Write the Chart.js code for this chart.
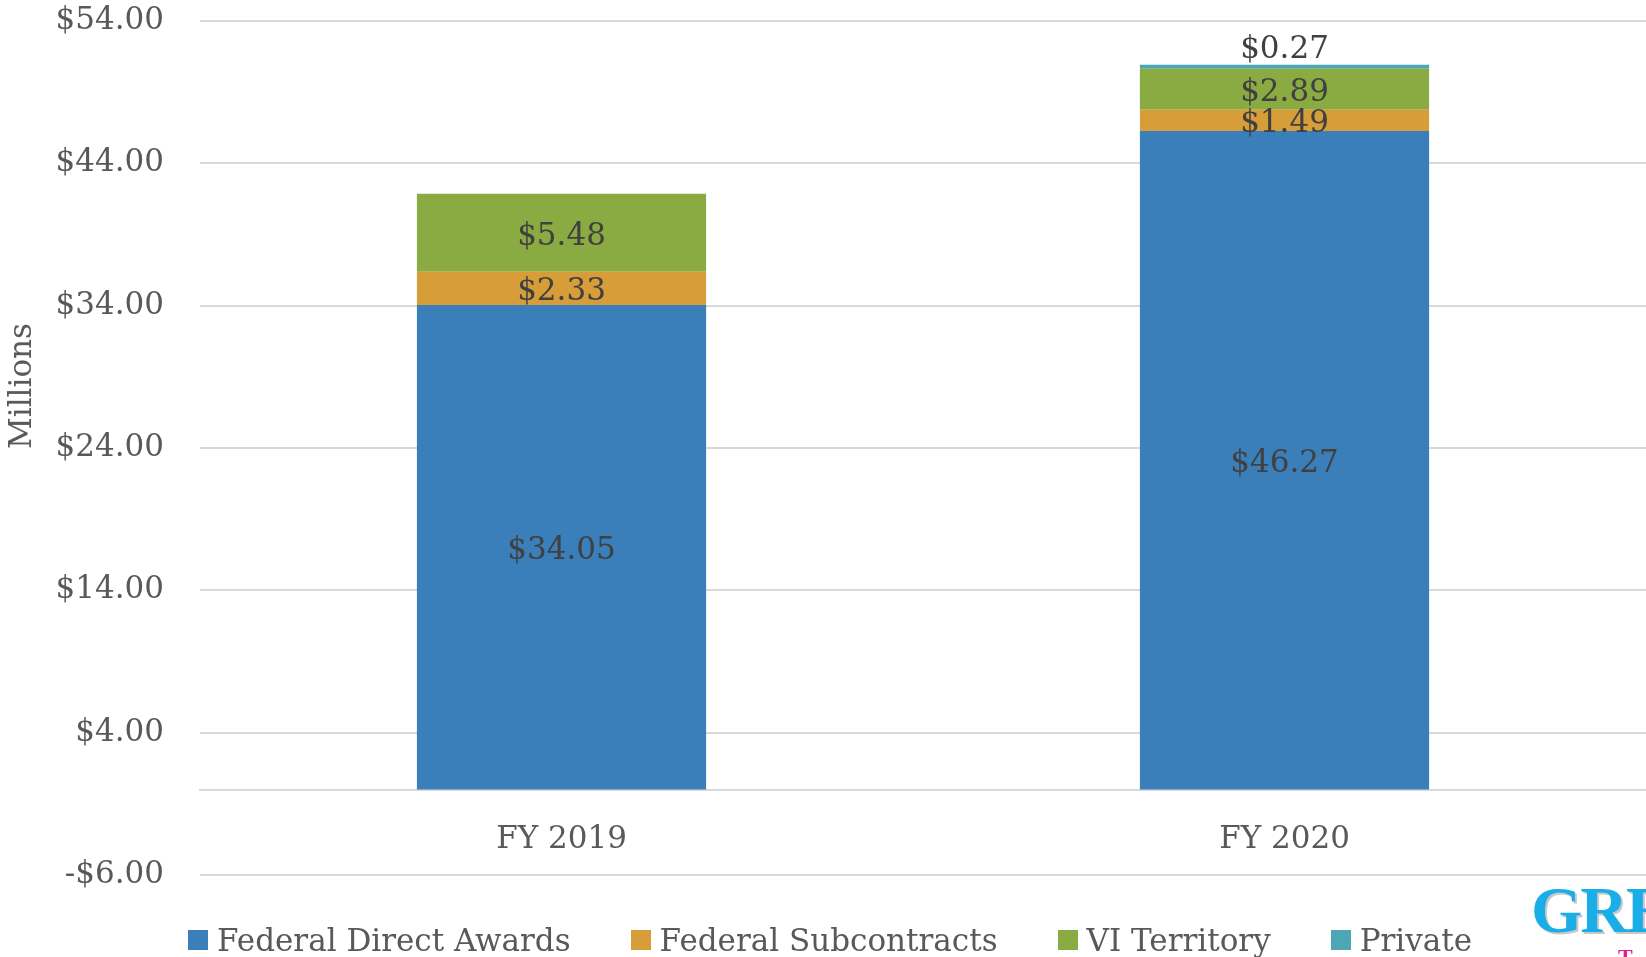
<!DOCTYPE html>
<html>
<head>
<meta charset="utf-8">
<script src="https://cdn.jsdelivr.net/npm/chart.js@4"></script>
<style>
  html, body { margin: 0; padding: 0; background: #fff; overflow: hidden; }
  #wrap { position: relative; width: 1646px; height: 957px; }
  #legend {
    position: absolute; left: 188px; top: 922px;
    display: flex; align-items: center;
    font: 31px "DejaVu Serif", serif; color: #595959; white-space: nowrap;
  }
  .item { display: flex; align-items: center; margin-right: 60px; }
  .box { width: 20px; height: 20px; margin-right: 9px; }
  #ytitle {
    position: absolute; left: 20px; top: 386px;
    transform: translate(-50%, -50%) rotate(-90deg);
    font: 31px "DejaVu Serif", serif; color: #595959; white-space: nowrap;
  }
  #logo {
    position: absolute; left: 1531px; top: 872px;
    font: bold 66px "Liberation Serif", serif; color: #1aaee9;
    text-shadow: 2px 2px 0 #c8c8c8; white-space: nowrap; letter-spacing: -2px;
  }
  #logo2 {
    position: absolute; left: 1618px; top: 944px;
    font: bold 22px "Liberation Serif", serif; color: #e0208a;
  }
</style>
</head>
<body>
<div id="wrap">
  <canvas id="chart" width="1646" height="957"></canvas>
  <div id="ytitle">Millions</div>
  <div id="legend"></div>
  <div id="logo">GRE</div>
  <div id="logo2">T</div>
</div>
<script>
// Data (millions of dollars)
const categories = ['FY 2019', 'FY 2020'];
const federalDirect = [34.05, 46.27];
const federalSub = [2.33, 1.49];
const viTerritory = [5.48, 2.89];
const privateFunds = [0, 0.27];
const yTicks = [-6, 4, 14, 24, 34, 44, 54];

const colors = {
    blue: '#3a7fb9',
    orange: '#d79d38',
    green: '#8aaa42',
    teal: '#4ea5b5'
};

const fmt = v => (v < 0 ? '-$' : '$') + Math.abs(v).toFixed(2);

// Simple value labels drawn in each bar segment
const valueLabels = {
    id: 'valueLabels',
    afterDatasetsDraw(chart) {
        const ctx = chart.ctx;
        ctx.save();
        ctx.font = '31px "DejaVu Serif", serif';
        ctx.fillStyle = '#404040';
        ctx.textAlign = 'center';
        chart.data.datasets.forEach((ds, i) => {
            const meta = chart.getDatasetMeta(i);
            meta.data.forEach((bar, j) => {
                const v = ds.data[j];
                if (!v) return;
                if (ds.labelAnchor === 'end') {
                    ctx.textBaseline = 'alphabetic';
                    ctx.fillText(fmt(v), bar.x, bar.y - 7);
                } else {
                    ctx.textBaseline = 'middle';
                    ctx.fillText(fmt(v), bar.x, (bar.y + bar.base) / 2 + 4);
                }
            });
        });
        ctx.restore();
    }
};

const datasets = [
    { label: 'Federal Direct Awards', data: federalDirect, backgroundColor: colors.blue },
    { label: 'Federal Subcontracts', data: federalSub, backgroundColor: colors.orange },
    { label: 'VI Territory', data: viTerritory, backgroundColor: colors.green },
    { label: 'Private', data: privateFunds, backgroundColor: colors.teal, labelAnchor: 'end' }
];

const chart = new Chart(document.getElementById('chart').getContext('2d'), {
    type: 'bar',
    data: { labels: categories, datasets: datasets },
    options: {
        responsive: false,
        animation: false,
        categoryPercentage: 0.8,
        barPercentage: 0.5,
        layout: { padding: { top: 21, right: 0, bottom: 82, left: 0 } },
        plugins: { legend: { display: false }, tooltip: { enabled: false } },
        scales: {
            x: {
                stacked: true,
                position: { y: 0 },
                grid: { display: false, drawTicks: false },
                border: { display: true, color: '#d9d9d9', width: 2 },
                ticks: {
                    padding: 32,
                    color: '#595959',
                    font: { family: '"DejaVu Serif", serif', size: 31 }
                }
            },
            y: {
                stacked: true,
                min: -6,
                max: 54,
                afterBuildTicks: scale => { scale.ticks = yTicks.map(v => ({ value: v })); },
                afterFit: scale => { scale.width = 200; },
                // invisible tick marks give the gap between labels and grid
                grid: { color: '#d9d9d9', lineWidth: 2, drawTicks: true, tickLength: 36, tickColor: 'rgba(0,0,0,0)' },
                border: { display: false },
                ticks: {
                    padding: 0,
                    color: '#595959',
                    font: { family: '"DejaVu Serif", serif', size: 31 },
                    callback: v => fmt(v)
                }
            }
        }
    },
    plugins: [valueLabels]
});

// HTML legend from the datasets
const legend = document.getElementById('legend');
datasets.forEach(ds => {
    const item = document.createElement('div');
    item.className = 'item';
    const box = document.createElement('span');
    box.className = 'box';
    box.style.background = ds.backgroundColor;
    const txt = document.createElement('span');
    txt.textContent = ds.label;
    item.appendChild(box);
    item.appendChild(txt);
    legend.appendChild(item);
});
</script>
</body>
</html>
